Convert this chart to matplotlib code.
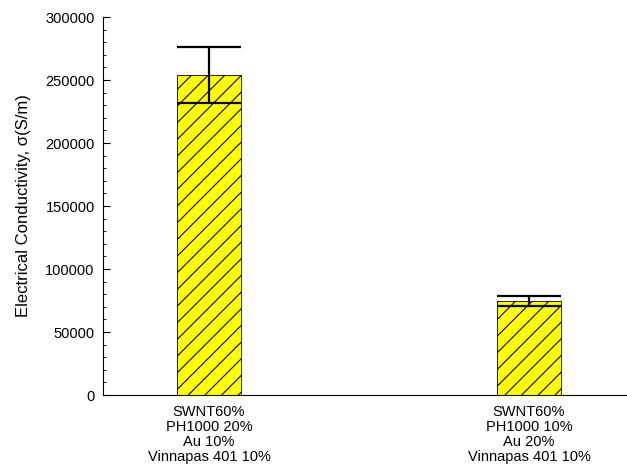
import matplotlib
import matplotlib.pyplot as plt
from matplotlib.ticker import MultipleLocator

matplotlib.use("Agg")

plt.rcParams["font.family"] = ["Liberation Sans", "DejaVu Sans"]
plt.rcParams["hatch.linewidth"] = 0.8

labels = [
    "SWNT60%\nPH1000 20%\nAu 10%\nVinnapas 401 10%",
    "SWNT60%\nPH1000 10%\nAu 20%\nVinnapas 401 10%",
]
values = [254000, 74500]
errors = [22000, 3800]

fig = plt.figure(figsize=(6.27, 4.73), dpi=100)
ax = fig.add_axes([103 / 627, 78 / 473, 523 / 627, 378 / 473])

x = range(len(values))
ax.bar(x, values, width=0.2, color="#ffff00", edgecolor="black", linewidth=0.6,
       hatch="//", zorder=2)
ax.errorbar(x, values, yerr=errors, fmt="none", ecolor="black", elinewidth=1.6,
            capsize=23, capthick=1.6, zorder=3)

ax.set_xlim(-0.331, 1.303)
ax.set_ylim(0, 300000)
ax.yaxis.set_major_locator(MultipleLocator(50000))
ax.yaxis.set_minor_locator(MultipleLocator(10000))
ax.tick_params(axis="y", which="major", direction="in", length=5, labelsize=10.5, pad=6)
ax.tick_params(axis="y", which="minor", direction="in", length=2.5)
ax.tick_params(axis="x", length=0, labelsize=10.5, pad=7)
ax.set_xticks(list(x))
ax.set_xticklabels(labels, linespacing=1.1)
ax.set_ylabel("Electrical Conductivity, σ(S/m)", fontsize=12, labelpad=10)

for position in ("right", "top"):
    ax.spines[position].set_visible(False)

fig.savefig("out.png", dpi=100)
plt.close(fig)
